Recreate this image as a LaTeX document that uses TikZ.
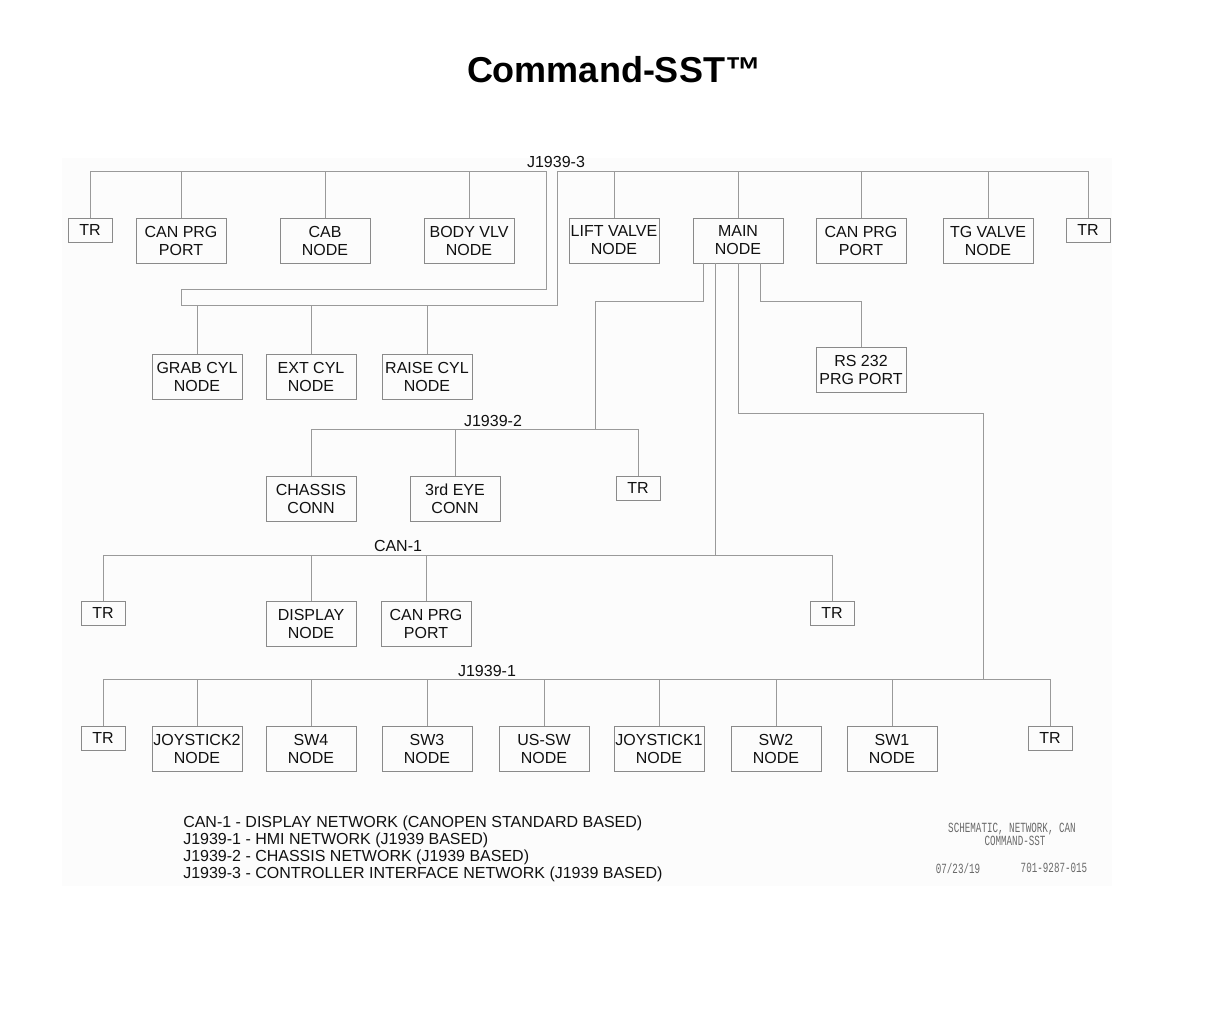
\documentclass[tikz,border=0pt]{standalone}
\usepackage{fontspec}
\setmainfont{Liberation Sans}
\newfontfamily\cadfont[FakeStretch=0.66]{Liberation Mono}
\definecolor{boxline}{HTML}{8A8A8A}
\definecolor{wireline}{HTML}{9A9A9A}
\definecolor{ink}{HTML}{111111}
\definecolor{cadgray}{HTML}{6A6A6A}
\definecolor{panel}{HTML}{FCFCFC}
\begin{document}
\begin{tikzpicture}[x=0.75pt,y=-0.75pt,
  box/.style={draw=boxline,line width=0.6pt,minimum width=67.5pt,minimum height=33.75pt,inner sep=0pt,align=center,text=ink,font=\fontsize{12}{13.5}\selectfont},
  trbox/.style={box,minimum width=33pt,minimum height=18pt},
  wire/.style={draw=wireline,line width=0.6pt},
  buslabel/.style={text=ink,font=\fontsize{12}{13.5}\selectfont,inner sep=0pt},
  cad/.style={text=cadgray,font=\cadfont\fontsize{10.5}{12}\selectfont,inner sep=0pt}]
\useasboundingbox (0,0) rectangle (1224,1008);
\fill[panel] (62,158) rectangle (1112,886);

\node[font=\bfseries\fontsize{27}{30}\selectfont,text=black,inner sep=0pt] (title) at (614,70) {Command-SST™};

% Row 1 (J1939-3)
\node[trbox] (tra) at (90,230) {TR};
\node[box] (cpa) at (181,240.5) {CAN PRG\\PORT};
\node[box] (cab) at (325,240.5) {CAB\\NODE};
\node[box] (bvlv) at (469,240.5) {BODY VLV\\NODE};
\node[box] (lift) at (614,240.5) {LIFT VALVE\\NODE};
\node[box] (main) at (738,240.5) {MAIN\\NODE};
\node[box] (cpb) at (861,240.5) {CAN PRG\\PORT};
\node[box] (tg) at (988,240.5) {TG VALVE\\NODE};
\node[trbox] (trb) at (1088,230) {TR};

% Cylinder row
\node[box] (grab) at (197,376.5) {GRAB CYL\\NODE};
\node[box] (ext) at (311,376.5) {EXT CYL\\NODE};
\node[box] (raise) at (427,376.5) {RAISE CYL\\NODE};
\node[box] (rs) at (861,369.5) {RS 232\\PRG PORT};

% J1939-2 row
\node[box] (chassis) at (311,498.5) {CHASSIS\\CONN};
\node[box] (eye) at (455,498.5) {3rd EYE\\CONN};
\node[trbox] (trj2) at (638,488) {TR};

% CAN-1 row
\node[trbox] (trc1) at (103,613) {TR};
\node[box] (display) at (311,623.5) {DISPLAY\\NODE};
\node[box] (cpc) at (426,623.5) {CAN PRG\\PORT};
\node[trbox] (trc2) at (832,613) {TR};

% J1939-1 row
\node[trbox] (trd1) at (103,738) {TR};
\node[box] (joy2) at (197,748.5) {JOYSTICK2\\NODE};
\node[box] (sw4) at (311,748.5) {SW4\\NODE};
\node[box] (sw3) at (427,748.5) {SW3\\NODE};
\node[box] (ussw) at (544,748.5) {US-SW\\NODE};
\node[box] (joy1) at (659,748.5) {JOYSTICK1\\NODE};
\node[box] (sw2) at (776,748.5) {SW2\\NODE};
\node[box] (sw1) at (892,748.5) {SW1\\NODE};
\node[trbox] (trd2) at (1050,738) {TR};

% bus levels
\coordinate (bus3) at (0,171);
\coordinate (cylbus) at (0,305);
\coordinate (bus2) at (0,429);
\coordinate (busc) at (0,555);
\coordinate (bus1) at (0,679);
\coordinate (j2tap) at (595,429);
\coordinate (c1tap) at (715,555);
\coordinate (j1tap) at (983,679);

% J1939-3 bus with loop
\draw[wire] (tra.north) |- (546,171) -- (546,289) -- (181,289) -- (181,305) -- (557,305) -- (557,171) -| (trb.north);
\foreach \n in {cpa,cab,bvlv,lift,main,cpb,tg}
  \draw[wire] (\n.north) -- (\n.north |- bus3);
\foreach \n in {grab,ext,raise}
  \draw[wire] (\n.north) -- (\n.north |- cylbus);

% Main node branches
\draw[wire] (703,0 |- main.south) -- (703,301) -| (j2tap);
\draw[wire] (715,0 |- main.south) -- (c1tap);
\draw[wire] (main.south) -- (738,413) -| (j1tap);
\draw[wire] (760,0 |- main.south) -- (760,301) -| (rs.north);

% J1939-2
\draw[wire] (chassis.north) |- (trj2.north |- bus2) -- (trj2.north);
\draw[wire] (eye.north) -- (eye.north |- bus2);

% CAN-1
\draw[wire] (trc1.north) |- (trc2.north |- busc) -- (trc2.north);
\foreach \n in {display,cpc}
  \draw[wire] (\n.north) -- (\n.north |- busc);

% J1939-1
\draw[wire] (trd1.north) |- (trd2.north |- bus1) -- (trd2.north);
\foreach \n in {joy2,sw4,sw3,ussw,joy1,sw2,sw1}
  \draw[wire] (\n.north) -- (\n.north |- bus1);

% bus labels
\node[buslabel] (l3) at (556,162) {J1939-3};
\node[buslabel] (l2) at (493,421) {J1939-2};
\node[buslabel] (lc) at (398,546) {CAN-1};
\node[buslabel] (l1) at (487,671) {J1939-1};

% legend
\node[anchor=west,align=left,inner sep=0pt,text=ink,font=\fontsize{12}{12.75}\selectfont] (legend) at (183,848.5)
  {CAN-1 - DISPLAY NETWORK (CANOPEN STANDARD BASED)\\
   J1939-1 - HMI NETWORK (J1939 BASED)\\
   J1939-2 - CHASSIS NETWORK (J1939 BASED)\\
   J1939-3 - CONTROLLER INTERFACE NETWORK (J1939 BASED)};

% title block
\node[cad] (t1) at (1012,829) {SCHEMATIC, NETWORK, CAN};
\node[cad] (t2) at (1015,841) {COMMAND-SST};
\node[cad] (t3) at (958,868) {07/23/19};
\node[cad] (t4) at (1054,868) {701-9287-015};
\end{tikzpicture}
\end{document}
